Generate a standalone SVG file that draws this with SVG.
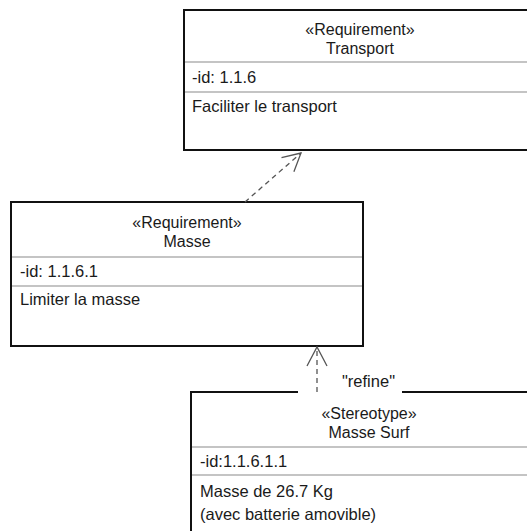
<svg xmlns="http://www.w3.org/2000/svg" width="527" height="531" viewBox="0 0 527 531">
<style>
.box{fill:#fff;stroke:#111;stroke-width:2}
.div{stroke:#c4c4c4;stroke-width:2}
text{font-family:"Liberation Sans",Arial,sans-serif;font-size:16.5px;fill:#1a1a1a}
.h{font-size:16px;text-anchor:middle}
.dash{fill:none;stroke:#555;stroke-width:1.3;stroke-dasharray:5 4}
.head{fill:none;stroke:#555;stroke-width:1.3}
</style>
<rect width="527" height="531" fill="#fff"/>
<g id="transport">
<rect class="box" x="184" y="10" width="352" height="140"/>
<line class="div" x1="185" y1="62" x2="527" y2="62"/>
<line class="div" x1="185" y1="92" x2="527" y2="92"/>
<text class="h" x="360" y="35">«Requirement»</text>
<text class="h" x="360" y="54">Transport</text>
<text x="192" y="83">-id: 1.1.6</text>
<text x="192" y="112">Faciliter le transport</text>
</g>
<g id="masse">
<rect class="box" x="11" y="202" width="352" height="144"/>
<line class="div" x1="12" y1="257" x2="362" y2="257"/>
<line class="div" x1="12" y1="286" x2="362" y2="286"/>
<text class="h" x="187" y="228">«Requirement»</text>
<text class="h" x="187" y="247">Masse</text>
<text x="20" y="277">-id: 1.1.6.1</text>
<text x="20" y="305">Limiter la masse</text>
</g>
<g id="masse-surf">
<rect class="box" x="191" y="392" width="356" height="150"/>
<line class="div" x1="192" y1="447" x2="527" y2="447"/>
<line class="div" x1="192" y1="475" x2="527" y2="475"/>
<text class="h" x="369" y="419">«Stereotype»</text>
<text class="h" x="369" y="438">Masse Surf</text>
<text x="200" y="467">-id:1.1.6.1.1</text>
<text x="200" y="497">Masse de 26.7 Kg</text>
<text x="200" y="520">(avec batterie amovible)</text>
</g>
<g id="connectors">
<line class="dash" x1="245" y1="202" x2="301" y2="153"/>
<polyline class="head" points="281.5,157.6 301,153 293.9,171.7"/>
<rect x="298" y="370" width="104" height="24" fill="#fff"/>
<text x="342" y="387">"refine"</text>
<line class="dash" x1="317" y1="392" x2="317" y2="348"/>
<polyline class="head" points="307,366 317,347 327,366"/>
</g>
</svg>
